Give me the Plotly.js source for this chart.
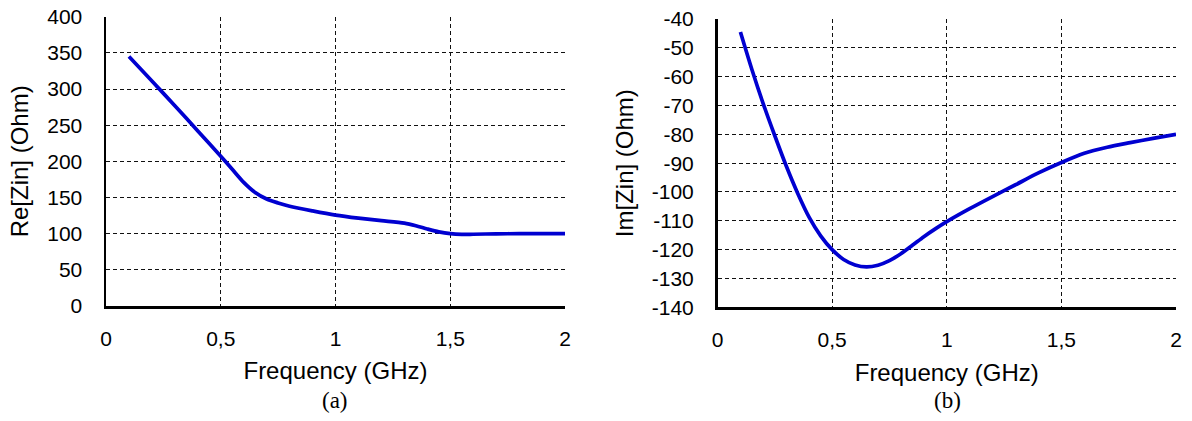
<!DOCTYPE html>
<html>
<head>
<meta charset="utf-8">
<script src="https://cdn.plot.ly/plotly-3.0.1.min.js"></script>
<style>
  html, body { margin: 0; padding: 0; background: #fff; }
  #chart { width: 1192px; height: 421px; }
</style>
</head>
<body>
<div id="chart"></div>
<script>
// ---- Data ----
const freqRe = [0.1, 0.2, 0.3, 0.4, 0.5, 0.55, 0.6, 0.65, 0.7, 0.75, 0.8, 0.9, 1.0, 1.1, 1.2, 1.3, 1.35, 1.4, 1.45, 1.5, 1.55, 1.6, 1.7, 1.8, 1.9, 2.0];
const reZin  = [345, 311, 277, 242, 207, 189, 171, 157, 148, 142.5, 138, 131.5, 125.7, 121.5, 118, 114.5, 111, 106.5, 102.5, 100, 99, 99.2, 99.8, 100, 100, 100];

const freqIm = [0.1, 0.15, 0.2, 0.25, 0.3, 0.35, 0.4, 0.45, 0.5, 0.55, 0.6, 0.65, 0.7, 0.75, 0.8, 0.85, 0.9, 0.95, 1.0, 1.1, 1.2, 1.3, 1.4, 1.5, 1.6, 1.7, 1.8, 1.9, 2.0];
const imZin  = [-44.5, -57.5, -69.5, -80.5, -91, -100.5, -108.8, -115.2, -120, -123.4, -125.3, -126, -125.4, -123.8, -121.4, -118.5, -115.5, -112.8, -110.3, -105.8, -101.6, -97.5, -93.4, -89.8, -86.6, -84.5, -82.9, -81.4, -80];

const xTickVals = [0, 0.5, 1, 1.5, 2];
const xTickText = ["0", "0,5", "1", "1,5", "2"];
const reTickVals = [0, 50, 100, 150, 200, 250, 300, 350, 400];
const imTickVals = [-140, -130, -120, -110, -100, -90, -80, -70, -60, -50, -40];
const imTickText = ["-140", "-130", "-120", "-110", "-100", "-90", "-80", "-70", "-60", "-50", "-40"];

const xTitle = "Frequency (GHz)";
const reTitle = "Re[Zin] (Ohm)";
const imTitle = "Im[Zin] (Ohm)";
const captions = ["(a)", "(b)"];

// ---- Styling ----
const lineColor = "#0000D0";
const tickFont = { family: "Liberation Sans, Arial, sans-serif", size: 21, color: "#000" };
const titleFont = { family: "Liberation Sans, Arial, sans-serif", size: 24, color: "#000" };
const gridStyle = {
  showgrid: true, gridcolor: "#111", gridwidth: 1, griddash: "4px,3px",
  zeroline: false, showline: true, linecolor: "#000", linewidth: 2.5,
  ticks: "", tickfont: tickFont, fixedrange: true
};

const traces = [
  { x: freqRe, y: reZin, xaxis: "x", yaxis: "y", mode: "lines",
    line: { color: lineColor, width: 3.7, shape: "spline", smoothing: 0.8 }, hoverinfo: "skip" },
  { x: freqIm, y: imZin, xaxis: "x2", yaxis: "y2", mode: "lines",
    line: { color: lineColor, width: 3.7, shape: "spline", smoothing: 0.8 }, hoverinfo: "skip" }
];

const W = 1192, H = 421;
const layout = {
  width: W, height: H,
  margin: { l: 0, r: 0, t: 0, b: 0 },
  paper_bgcolor: "#fff", plot_bgcolor: "#fff",
  showlegend: false,
  xaxis: Object.assign({}, gridStyle, {
    domain: [106 / W, 565 / W], range: [0, 2],
    tickvals: xTickVals, ticktext: xTickText, anchor: "y",
    ticklabelstandoff: 12,
    title: { text: xTitle, font: titleFont, standoff: 14 }
  }),
  yaxis: Object.assign({}, gridStyle, {
    domain: [1 - 306 / H, 1 - 16.7 / H], range: [0, 400],
    tickvals: reTickVals, anchor: "x",
    ticklabelstandoff: 17,
    title: { text: reTitle, font: titleFont, standoff: 12 }
  }),
  xaxis2: Object.assign({}, gridStyle, {
    domain: [717.5 / W, 1176 / W], range: [0, 2],
    tickvals: xTickVals, ticktext: xTickText, anchor: "y2",
    ticklabelstandoff: 12,
    title: { text: xTitle, font: titleFont, standoff: 14 }
  }),
  yaxis2: Object.assign({}, gridStyle, {
    domain: [1 - 307.3 / H, 1 - 19 / H], range: [-140, -40],
    tickvals: imTickVals, ticktext: imTickText, anchor: "x2",
    ticklabelstandoff: 17,
    title: { text: imTitle, font: titleFont, standoff: 12 }
  }),
  annotations: [
    { text: captions[0], xref: "paper", yref: "paper", x: 335.5 / W, y: 1 - 400 / H,
      xanchor: "center", yanchor: "middle",
      showarrow: false, font: { family: "Liberation Serif, serif", size: 23, color: "#000" } },
    { text: captions[1], xref: "paper", yref: "paper", x: 947 / W, y: 1 - 400 / H,
      xanchor: "center", yanchor: "middle",
      showarrow: false, font: { family: "Liberation Serif, serif", size: 23, color: "#000" } }
  ]
};

Plotly.newPlot("chart", traces, layout, { staticPlot: true, displayModeBar: false });
</script>
</body>
</html>
